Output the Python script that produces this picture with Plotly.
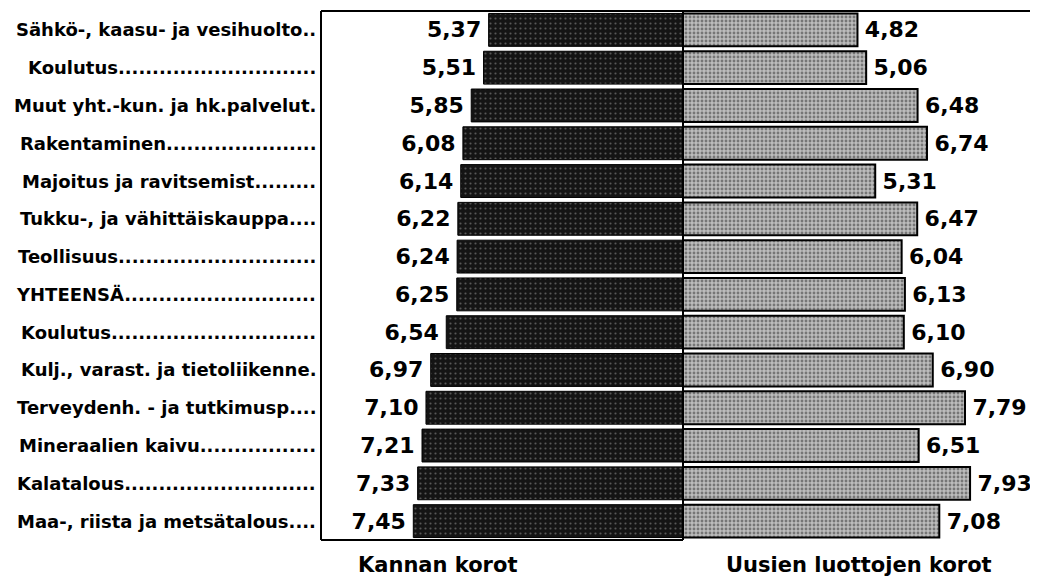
import plotly.graph_objects as go

# ---- data ----
categories = [
    "Sähkö-, kaasu- ja vesihuolto",
    "Koulutus",
    "Muut yht.-kun. ja hk.palvelut.",
    "Rakentaminen",
    "Majoitus ja ravitsemist",
    "Tukku-, ja vähittäiskauppa",
    "Teollisuus",
    "YHTEENSÄ",
    "Koulutus",
    "Kulj., varast. ja tietoliikenne.",
    "Terveydenh. - ja tutkimusp",
    "Mineraalien kaivu",
    "Kalatalous",
    "Maa-, riista ja metsätalous",
]
leader_dots = [2, 29, 0, 22, 9, 4, 29, 28, 30, 0, 4, 17, 28, 4]
kannan_korot = [5.37, 5.51, 5.85, 6.08, 6.14, 6.22, 6.24, 6.25, 6.54, 6.97, 7.10, 7.21, 7.33, 7.45]
uusien_korot = [4.82, 5.06, 6.48, 6.74, 5.31, 6.47, 6.04, 6.13, 6.10, 6.90, 7.79, 6.51, 7.93, 7.08]
series_titles = ["Kannan korot", "Uusien luottojen korot"]

# ---- layout constants (page body has an 8px margin) ----
OFF = 8
W, H = 1038 - OFF, 585 - OFF
TOP, BOTTOM = 11 - OFF, 540 - OFF
PLOT_H = BOTTOM - TOP
CENTER_PX = 683 - OFF
SCALE = 36.2  # px per unit
FRAME_PX = 321 - OFF
LABEL_RIGHT = 318 - OFF
TITLE_Y = 565 - OFF
xr = [-CENTER_PX / SCALE, (W - CENTER_PX) / SCALE]
FONT = "DejaVu Sans"

def fmt(v):
    return f"{v:.2f}".replace(".", ",")

rows = list(range(len(categories)))

fig = go.Figure()
fig.add_trace(go.Bar(
    y=rows, x=[-v for v in kannan_korot], orientation="h",
    width=0.87,
    marker=dict(color="#141414",
                line=dict(width=1, color="#000000"),
                pattern=dict(shape=".", fgcolor="#9a9a9a", bgcolor="#141414",
                             size=5, solidity=0.15)),
    text=[fmt(v) + "\u2009" for v in kannan_korot], textposition="outside",
    textfont=dict(family=FONT, size=22, color="#000000", weight="bold"),
    cliponaxis=False, hoverinfo="skip", showlegend=False,
))
fig.add_trace(go.Bar(
    y=rows, x=uusien_korot, orientation="h",
    width=0.87,
    marker=dict(color="#acacac",
                line=dict(width=2, color="#000000"),
                pattern=dict(shape=".", fgcolor="#303030", bgcolor="#bcbcbc",
                             size=4, solidity=0.4)),
    text=["\u2009" + fmt(v) for v in uusien_korot], textposition="outside",
    textfont=dict(family=FONT, size=22, color="#000000", weight="bold"),
    cliponaxis=False, hoverinfo="skip", showlegend=False,
))

annotations = []
for i, (name, nd) in enumerate(zip(categories, leader_dots)):
    annotations.append(dict(
        x=LABEL_RIGHT / W, xref="paper", y=i, yref="y",
        text="<b>" + name + "." * nd + "</b>", showarrow=False,
        xanchor="right", yanchor="middle",
        font=dict(family=FONT, size=18, color="#000000"),
    ))
title_y = -(TITLE_Y - BOTTOM) / PLOT_H
for tx, title in zip([437 - OFF, 859 - OFF], series_titles):
    annotations.append(dict(x=tx / W, xref="paper", y=title_y, yref="paper",
                            text="<b>" + title + "</b>", showarrow=False,
                            xanchor="center", yanchor="middle",
                            font=dict(family=FONT, size=21, color="#000000")))

frame_x = (FRAME_PX - CENTER_PX) / SCALE
shapes = [
    dict(type="line", xref="x", yref="paper", x0=frame_x, x1=xr[1], y0=1, y1=1,
         line=dict(color="#000000", width=2)),
    dict(type="line", xref="x", yref="paper", x0=frame_x, x1=frame_x, y0=0, y1=1,
         line=dict(color="#000000", width=2)),
    dict(type="line", xref="x", yref="paper", x0=frame_x, x1=0, y0=0, y1=0,
         line=dict(color="#000000", width=2)),
    dict(type="line", xref="x", yref="paper", x0=0, x1=0, y0=0, y1=1,
         line=dict(color="#000000", width=2)),
]

fig.update_layout(
    width=W, height=H,
    margin=dict(l=0, r=0, t=TOP, b=H - BOTTOM, pad=0),
    paper_bgcolor="#ffffff", plot_bgcolor="#ffffff",
    barmode="overlay",
    xaxis=dict(range=xr, visible=False, fixedrange=True),
    yaxis=dict(range=[len(categories) - 0.5, -0.5], visible=False, fixedrange=True),
    annotations=annotations, shapes=shapes,
    font=dict(family=FONT),
)

fig.write_html("out.html")
